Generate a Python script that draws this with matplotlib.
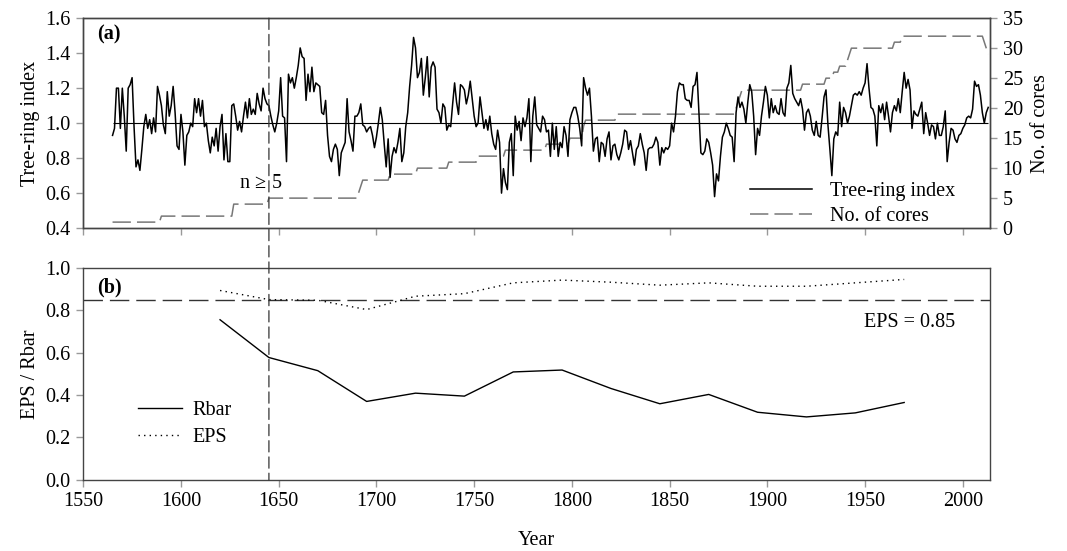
import numpy as np
import matplotlib
matplotlib.use("Agg")
import matplotlib.pyplot as plt
from matplotlib.patches import ConnectionPatch

plt.rcParams["font.family"] = ["Liberation Serif", "DejaVu Serif"]
plt.rcParams["font.size"] = 14.5

# standardized tree-ring index, one value per year from 1565
ring_start = 1565
ring_1565_1678 = [
    0.93, 0.97, 1.20, 1.20, 0.97, 1.20, 1.04, 0.84, 1.20, 1.22,
    1.26, 0.98, 0.75, 0.79, 0.73, 0.85, 0.98, 1.05, 0.97, 1.02,
    0.94, 1.03, 0.95, 1.21, 1.16, 1.10, 0.99, 0.94, 1.18, 1.04,
    1.10, 1.21, 1.06, 0.87, 0.85, 1.05, 0.95, 0.76, 0.93, 0.95,
    1.00, 0.98, 1.14, 1.06, 1.14, 1.04, 1.13, 0.98, 1.00, 0.90,
    0.83, 0.92, 0.87, 0.97, 0.84, 0.98, 1.05, 0.79, 0.94, 0.78,
    0.78, 1.10, 1.11, 1.04, 0.96, 1.01, 0.95, 1.04, 1.12, 1.03,
    1.14, 1.05, 1.08, 1.05, 1.17, 1.11, 1.07, 1.20, 1.14, 1.11,
    1.10, 1.04, 0.99, 0.95, 1.00, 1.07, 1.26, 1.04, 1.03, 0.78,
    1.28, 1.23, 1.26, 1.20, 1.26, 1.33, 1.43, 1.38, 1.37, 1.13,
    1.28, 1.18, 1.32, 1.18, 1.23, 1.22, 1.21, 1.06, 1.05, 1.13,
    0.93, 0.81, 0.78, 0.85,
]
ring_1679_1788 = [
    0.88, 0.85, 0.70, 0.83, 0.86, 0.89, 1.14, 0.95, 0.90, 0.84,
    1.04, 1.04, 1.06, 1.11, 0.99, 0.98, 0.95, 0.97, 0.98, 0.93,
    0.86, 0.92, 1.00, 1.09, 1.02, 0.88, 0.75, 0.91, 0.69, 0.81,
    0.86, 0.83, 0.89, 0.97, 0.78, 0.83, 0.98, 1.06, 1.21, 1.33,
    1.49, 1.43, 1.26, 1.29, 1.37, 1.16, 1.26, 1.38, 1.15, 1.32,
    1.35, 1.32, 1.08, 1.06, 1.00, 1.11, 1.09, 0.96, 0.99, 0.98,
    1.11, 1.23, 1.12, 1.05, 1.22, 1.21, 1.19, 1.11, 1.16, 1.24,
    1.14, 1.04, 0.98, 1.00, 1.15, 1.06, 0.97, 1.02, 0.96, 1.04,
    0.94, 0.88, 0.85, 0.96, 0.89, 0.60, 0.74, 0.66, 0.62, 0.89,
    0.94, 0.70, 1.04, 0.96, 1.01, 0.90, 1.03, 0.98, 1.03, 1.14,
    0.78, 1.04, 1.15, 0.99, 0.97, 0.95, 1.04, 1.02, 0.95, 0.96,
]
ring_1789_1909 = [
    0.81, 1.00, 0.85, 0.98, 0.81, 0.89, 0.86, 0.98, 0.93, 0.81,
    1.02, 1.06, 1.09, 1.09, 1.04, 0.97, 0.87, 1.26,
    1.20, 1.16, 1.20, 1.04, 0.84, 0.91, 0.92, 0.78, 0.89, 0.88,
    0.81, 0.91, 0.95, 0.79, 0.87, 0.88, 0.82, 0.79, 0.83, 0.88,
    0.96, 0.95, 0.85, 0.90, 0.83, 0.76, 0.85, 0.87, 0.94, 0.88,
    0.83, 0.73, 0.85, 0.86, 0.86, 0.88, 0.92, 0.89, 0.76, 0.86,
    0.83, 0.86, 0.85, 0.87, 1.00, 0.95, 1.04, 1.18, 1.23, 1.22,
    1.22, 1.14, 1.13, 1.13, 1.09, 1.21, 1.22, 1.29, 1.06, 0.83,
    0.82, 0.84, 0.91, 0.89, 0.83, 0.76, 0.58, 0.71, 0.67, 0.81,
    0.92, 0.95, 1.00, 0.97, 0.93, 0.92, 0.78, 1.06, 1.15, 1.09,
    1.12, 1.08, 1.00, 1.12, 1.22, 1.18, 1.04, 0.82, 0.97, 0.93,
    1.04, 1.12, 1.21, 1.16, 1.03, 1.14, 1.06, 1.10, 1.06, 1.05,
    1.14, 1.06, 1.04,
]
ring_1910_2013 = [
    1.20, 1.23, 1.33, 1.17, 1.14, 1.12, 1.10, 1.14, 1.08, 0.96,
    1.06, 1.08, 1.04, 0.96, 0.93, 1.01, 0.93, 0.92, 1.03, 1.15,
    1.19, 0.99, 0.85, 0.70, 0.91, 0.95, 0.93, 1.12, 0.98, 1.09,
    1.06, 1.00, 1.04, 1.10, 1.16, 1.17, 1.16, 1.18, 1.16, 1.20,
    1.23, 1.34, 1.20, 1.09, 1.08, 1.04, 0.87, 1.10, 1.06, 1.11,
    1.02, 1.12, 1.04, 0.95, 1.06, 1.10, 1.07, 1.14, 1.06, 1.18,
    1.29, 1.20, 1.25, 1.19, 0.97, 1.07, 1.05, 1.04, 1.08, 1.12,
    0.94, 1.06, 1.00, 0.93, 0.99, 0.98, 0.91, 1.00, 0.93, 0.93,
    0.98, 1.07, 0.78, 0.89, 0.97, 0.96, 0.91, 0.89, 0.93, 0.94,
    0.97, 0.99, 1.03, 1.04, 1.03, 1.08, 1.24, 1.21, 1.22, 1.16,
    1.06, 1.00, 1.06, 1.09,
]

# sample depth: first year of each run and number of cores in it
core_run_start = [1565, 1590, 1627, 1645, 1691, 1692, 1693, 1707, 1721, 1737,
                  1752, 1766, 1787, 1799, 1806, 1807, 1823, 1884, 1885, 1886,
                  1887, 1918, 1930, 1934, 1937, 1941, 1942, 1943, 1965, 1969,
                  2011, 2012, 2013]
core_run_count = [1, 2, 4, 5, 6, 7, 8, 9, 10, 11,
                  12, 13, 14, 15, 17, 18, 19, 20, 21, 22,
                  23, 24, 25, 26, 27, 28, 29, 30, 31, 32,
                  31, 30, 29]

# running statistics, 50-yr windows lagged 25 yr
stat_years = [1620, 1645, 1670, 1695, 1720, 1745, 1770, 1795,
              1820, 1845, 1870, 1895, 1920, 1945, 1970]
rbar = [0.755, 0.577, 0.515, 0.370, 0.409, 0.395, 0.509, 0.518,
        0.431, 0.359, 0.403, 0.319, 0.297, 0.316, 0.365]
eps = [0.893, 0.850, 0.847, 0.803, 0.866, 0.878, 0.929, 0.942,
       0.932, 0.918, 0.929, 0.913, 0.913, 0.929, 0.945]

eps_threshold = 0.85
cutoff_year = 1645

ring = np.array(ring_1565_1678 + ring_1679_1788 + ring_1789_1909 + ring_1910_2013)
years = np.arange(ring_start, ring_start + len(ring))
run_len = np.diff(core_run_start + [years[-1] + 1])
cores = np.repeat(core_run_count, run_len)

spine_col = "#444444"
tick_col = "#999999"

fig = plt.figure(figsize=(10.67, 5.51), dpi=100)
ax1 = fig.add_axes([0.078, 0.586, 0.850, 0.381])
ax2 = fig.add_axes([0.078, 0.129, 0.850, 0.385])
ax1r = ax1.twinx()

# (a) chronology and sample depth
ax1.hlines(1.0, years[0], years[-1], color="black", lw=0.8, zorder=2)
l_ring, = ax1.plot(years, ring, color="black", lw=1.1, zorder=3,
                   label="Tree-ring index")
l_core, = ax1r.plot(years, cores, color="#777777", lw=1.1,
                    dashes=(12, 4), label="No. of cores")
ax1.set_zorder(ax1r.get_zorder() + 1)
ax1.patch.set_visible(False)

ax1.set_xlim(1550, 2014)
ax1.set_ylim(0.4, 1.6)
ax1.set_yticks(np.arange(0.4, 1.61, 0.2))
ax1.set_yticklabels([f"{v:.1f}" for v in np.arange(0.4, 1.61, 0.2)])
ax1.set_xticks(np.arange(1550, 2001, 50))
ax1.set_xticklabels([])
ax1.set_ylabel("Tree-ring index", labelpad=4)
ax1r.set_ylim(0, 35)
ax1r.set_yticks(np.arange(0, 36, 5))
ax1r.set_ylabel("No. of cores", labelpad=6)

ax1.text(0.015, 0.92, "(a)", transform=ax1.transAxes, fontweight="bold",
         ha="left", va="center")
ax1.text(cutoff_year - 1.5, 0.655, "n \u2265", ha="right", va="center")
ax1.text(cutoff_year + 1.5, 0.655, "5", ha="left", va="center")
ax1.legend([l_ring, l_core], ["Tree-ring index", "No. of cores"],
           loc="lower left", bbox_to_anchor=(0.715, -0.075), frameon=False,
           handlelength=3.1, handletextpad=0.9, labelspacing=0.3)

# (b) running Rbar and EPS
ax2.axhline(eps_threshold, color="#333333", lw=1.0, dashes=(14, 5))
ax2.plot(stat_years, rbar, color="black", lw=1.0, label="Rbar")
ax2.plot(stat_years, eps, color="black", lw=1.0, dashes=(1, 3), label="EPS")
ax2.set_xlim(1550, 2014)
ax2.set_ylim(0, 1.0)
ax2.set_xticks(np.arange(1550, 2001, 50))
ax2.set_yticks(np.arange(0, 1.01, 0.2))
ax2.set_yticklabels([f"{v:.1f}" for v in np.arange(0, 1.01, 0.2)])
ax2.set_ylabel("EPS / Rbar", labelpad=4)
ax2.set_xlabel("Year", labelpad=14)
ax2.text(0.015, 0.905, "(b)", transform=ax2.transAxes, fontweight="bold",
         ha="left", va="center")
ax2.text(1973, 0.74, f"EPS = {eps_threshold}", ha="center", va="center")
ax2.legend(loc="lower left", bbox_to_anchor=(0.04, 0.07), frameon=False,
           handlelength=2.2, handletextpad=0.5, labelspacing=0.4)

for ax in (ax1, ax1r, ax2):
    for sp in ax.spines.values():
        sp.set_color(spine_col)
        sp.set_linewidth(1.0)
    ax.tick_params(direction="out", length=5, width=1, color=tick_col,
                   labelcolor="black", pad=4)

# survey cutoff line through both panels
cut = ConnectionPatch(xyA=(cutoff_year, 1.6), coordsA=ax1.transData,
                      xyB=(cutoff_year, 0.0), coordsB=ax2.transData,
                      color="#333333", lw=0.9, linestyle=(0, (9, 4)),
                      zorder=5)
fig.add_artist(cut)

fig.savefig("out.png", dpi=100)
